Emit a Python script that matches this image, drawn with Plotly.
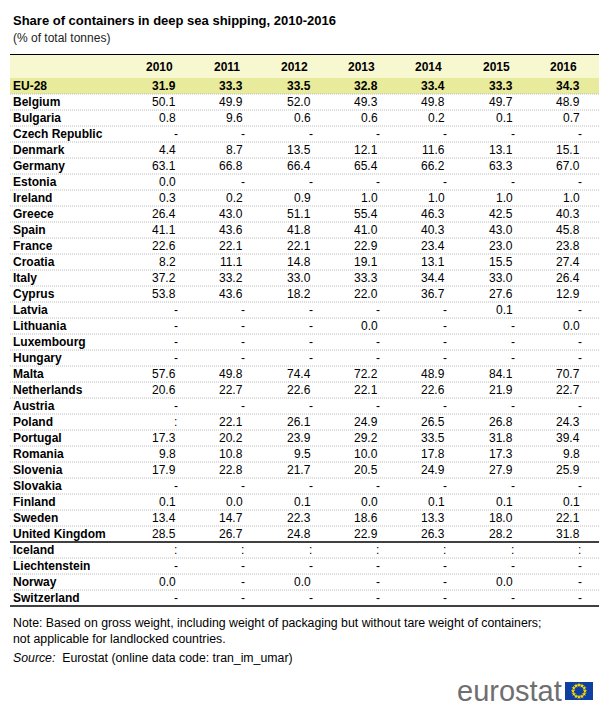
import math
import plotly.graph_objects as go

# ---------------- data ----------------
TITLE = "Share of containers in deep sea shipping, 2010-2016"
SUBTITLE = "(% of total tonnes)"
years = ["2010", "2011", "2012", "2013", "2014", "2015", "2016"]
countries = ["EU-28", "Belgium", "Bulgaria", "Czech Republic", "Denmark", "Germany",
             "Estonia", "Ireland", "Greece", "Spain", "France", "Croatia", "Italy",
             "Cyprus", "Latvia", "Lithuania", "Luxembourg", "Hungary", "Malta",
             "Netherlands", "Austria", "Poland", "Portugal", "Romania", "Slovenia",
             "Slovakia", "Finland", "Sweden", "United Kingdom", "Iceland",
             "Liechtenstein", "Norway", "Switzerland"]
D = None   # "-" : not applicable / nil
NA = ":"   # ":" : not available
v2010 = [31.9, 50.1, 0.8, D, 4.4, 63.1, 0.0, 0.3, 26.4, 41.1, 22.6, 8.2, 37.2, 53.8,
         D, D, D, D, 57.6, 20.6, D, NA, 17.3, 9.8, 17.9, D, 0.1, 13.4, 28.5, NA, D, 0.0, D]
v2011 = [33.3, 49.9, 9.6, D, 8.7, 66.8, D, 0.2, 43.0, 43.6, 22.1, 11.1, 33.2, 43.6,
         D, D, D, D, 49.8, 22.7, D, 22.1, 20.2, 10.8, 22.8, D, 0.0, 14.7, 26.7, NA, D, D, D]
v2012 = [33.5, 52.0, 0.6, D, 13.5, 66.4, D, 0.9, 51.1, 41.8, 22.1, 14.8, 33.0, 18.2,
         D, D, D, D, 74.4, 22.6, D, 26.1, 23.9, 9.5, 21.7, D, 0.1, 22.3, 24.8, NA, D, 0.0, D]
v2013 = [32.8, 49.3, 0.6, D, 12.1, 65.4, D, 1.0, 55.4, 41.0, 22.9, 19.1, 33.3, 22.0,
         D, 0.0, D, D, 72.2, 22.1, D, 24.9, 29.2, 10.0, 20.5, D, 0.0, 18.6, 22.9, NA, D, D, D]
v2014 = [33.4, 49.8, 0.2, D, 11.6, 66.2, D, 1.0, 46.3, 40.3, 23.4, 13.1, 34.4, 36.7,
         D, D, D, D, 48.9, 22.6, D, 26.5, 33.5, 17.8, 24.9, D, 0.1, 13.3, 26.3, NA, D, D, D]
v2015 = [33.3, 49.7, 0.1, D, 13.1, 63.3, D, 1.0, 42.5, 43.0, 23.0, 15.5, 33.0, 27.6,
         0.1, D, D, D, 84.1, 21.9, D, 26.8, 31.8, 17.3, 27.9, D, 0.1, 18.0, 28.2, NA, D, 0.0, D]
v2016 = [34.3, 48.9, 0.7, D, 15.1, 67.0, D, 1.0, 40.3, 45.8, 23.8, 27.4, 26.4, 12.9,
         D, 0.0, D, D, 70.7, 22.7, D, 24.3, 39.4, 9.8, 25.9, D, 0.1, 22.1, 31.8, NA, D, D, D]
columns = [v2010, v2011, v2012, v2013, v2014, v2015, v2016]
NOTE_1 = "Note: Based on gross weight, including weight of packaging but without tare weight of containers;"
NOTE_2 = "not applicable for landlocked countries."
SOURCE = "<i>Source:</i>  Eurostat (online data code: tran_im_umar)"

# ---------------- layout constants ----------------
W, H = 610, 719
OFF = 8  # default page body margin; axes are set so that data units == page pixels
FONT = "Liberation Sans, Arial, sans-serif"
LEFT, RIGHT = 10, 599
TOP_LINE = 54.5
FIRST_CENTER = 86
ROW_H = 16
COL_X0 = 177
COL_STEP = 67.3
LABEL_X = 12
HEADER_BG = "#f7f7d0"
EU_BG = "#e8eb9c"

def row_c(i):
    return FIRST_CENTER + ROW_H * i

def col_x(j):
    return COL_X0 + COL_STEP * j

fig = go.Figure()
shapes = []
ann = []

# backgrounds
shapes.append(dict(type="rect", xref="x", yref="y", x0=LEFT, x1=RIGHT, y0=TOP_LINE, y1=row_c(0) - ROW_H / 2,
                   fillcolor=HEADER_BG, line=dict(width=0), layer="below"))
shapes.append(dict(type="rect", xref="x", yref="y", x0=LEFT, x1=RIGHT, y0=row_c(0) - ROW_H / 2,
                   y1=row_c(0) + ROW_H / 2, fillcolor=EU_BG, line=dict(width=0), layer="below"))
# top line
shapes.append(dict(type="line", xref="x", yref="y", x0=LEFT, x1=RIGHT, y0=TOP_LINE, y1=TOP_LINE,
                   line=dict(color="#000000", width=1.2)))

n = len(countries)
uk_idx = countries.index("United Kingdom")
for i in range(n):
    yb = row_c(i) + ROW_H / 2
    if i == uk_idx or i == n - 1:
        shapes.append(dict(type="line", xref="x", yref="y", x0=LEFT, x1=RIGHT, y0=yb, y1=yb,
                           line=dict(color="#000000", width=1.5)))
    else:
        shapes.append(dict(type="line", xref="x", yref="y", x0=LEFT, x1=RIGHT, y0=yb, y1=yb,
                           line=dict(color="#bcbcbc", width=1, dash="1px,1px")))

# header years
for j, yr in enumerate(years):
    ann.append(dict(x=col_x(j) - 3, y=(TOP_LINE + row_c(0) - ROW_H / 2) / 2 + 0.5, text="<b>%s</b>" % yr,
                    xanchor="right", yanchor="middle", font=dict(size=12, color="#000")))

# rows
for i, c in enumerate(countries):
    bold = (i == 0)
    ann.append(dict(x=LABEL_X, y=row_c(i), text="<b>%s</b>" % c, xanchor="left", yanchor="middle",
                    font=dict(size=12, color="#000")))
    for j, col in enumerate(columns):
        v = col[i]
        if v is None:
            txt, xx = "-", col_x(j) + 2
        elif v == NA:
            txt, xx = ":", col_x(j) + 1
        else:
            txt, xx = "%.1f" % v, col_x(j)
        if bold:
            txt = "<b>%s</b>" % txt
        ann.append(dict(x=xx, y=row_c(i), text=txt, xanchor="right", yanchor="middle",
                        font=dict(size=12, color="#000")))

# title & subtitle
ann.append(dict(x=LABEL_X, y=20, text="<b>%s</b>" % TITLE, xanchor="left", yanchor="middle",
                font=dict(size=13, color="#000")))
ann.append(dict(x=LABEL_X, y=38, text=SUBTITLE, xanchor="left", yanchor="middle",
                font=dict(size=12, color="#222")))

# notes
ann.append(dict(x=LABEL_X, y=623, text=NOTE_1, xanchor="left", yanchor="middle",
                font=dict(size=12.3, color="#000")))
ann.append(dict(x=LABEL_X, y=639, text=NOTE_2, xanchor="left", yanchor="middle",
                font=dict(size=12.3, color="#000")))
ann.append(dict(x=LABEL_X, y=658, text=SOURCE, xanchor="left", yanchor="middle",
                font=dict(size=12.3, color="#000")))

# eurostat logo
ann.append(dict(x=563, y=691, text="eurostat", xanchor="right", yanchor="middle",
                font=dict(size=29, color="#6f6f6f", family=FONT)))
shapes.append(dict(type="rect", xref="x", yref="y", x0=565, x1=593, y0=682, y1=700,
                   fillcolor="#0f3fa0", line=dict(width=0), layer="below"))
sx = [579 + 6 * math.cos(2 * math.pi * k / 12) for k in range(12)]
sy = [691 + 6 * math.sin(2 * math.pi * k / 12) for k in range(12)]
fig.add_trace(go.Scatter(x=sx, y=sy, mode="markers", hoverinfo="skip",
                         marker=dict(symbol="star", size=3.5, color="#ffdd00", line=dict(width=0))))

for a in ann:
    a.setdefault("xref", "x")
    a.setdefault("yref", "y")
    a.setdefault("showarrow", False)
    a.setdefault("borderpad", 0)

fig.update_layout(
    width=W, height=H, margin=dict(l=0, r=0, t=0, b=0),
    paper_bgcolor="white", plot_bgcolor="white",
    font=dict(family=FONT, color="#000"),
    showlegend=False,
    xaxis=dict(range=[OFF, W + OFF], visible=False, fixedrange=True),
    yaxis=dict(range=[H + OFF, OFF], visible=False, fixedrange=True),
    shapes=shapes, annotations=ann,
)
fig.write_html("out.html")
